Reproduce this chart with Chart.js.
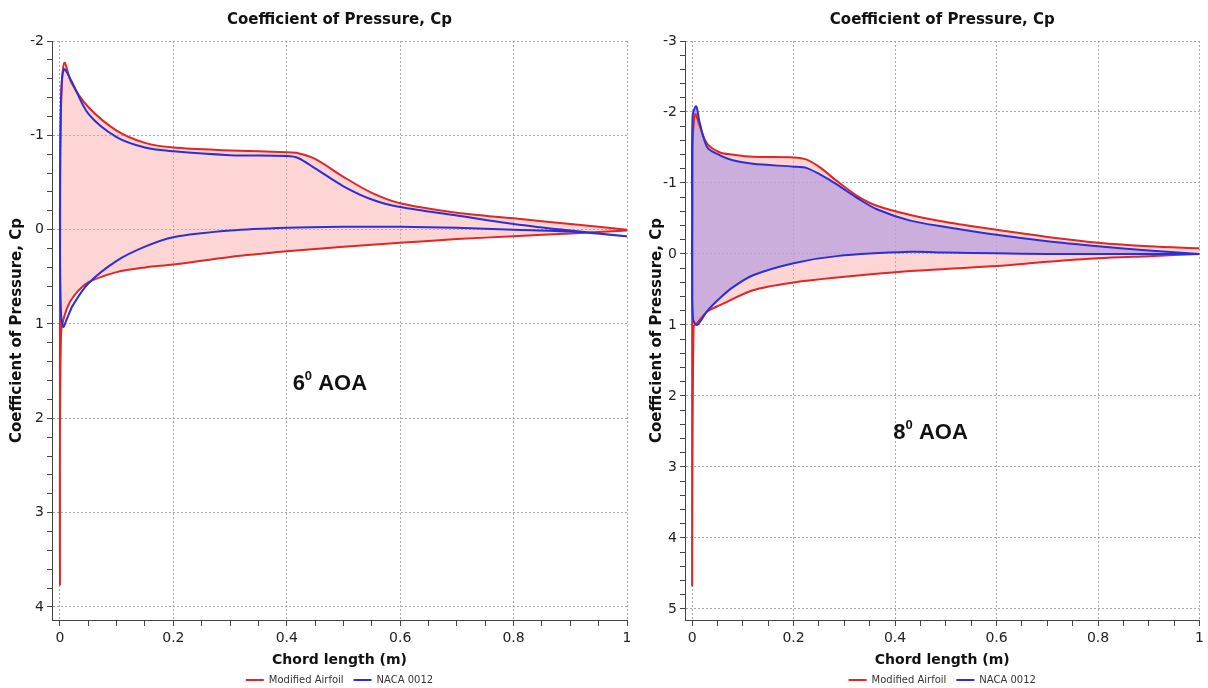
<!DOCTYPE html>
<html>
<head>
<meta charset="utf-8">
<script src="https://cdn.jsdelivr.net/npm/chart.js"></script>
<style>
  body { margin: 0; background: #fff; }
  .wrap { position: absolute; top: 0; }
</style>
</head>
<body>
<div class="wrap" style="left:0"><canvas id="cp6" width="640" height="688"></canvas></div>
<div class="wrap" style="left:640px"><canvas id="cp8" width="568" height="688"></canvas></div>
<script>
// ---- 6 deg AOA ----
var x6ModUpper  = [0.0005, 0.003, 0.008, 0.02, 0.05, 0.1, 0.15, 0.2, 0.3, 0.4, 0.42, 0.45, 0.5, 0.55, 0.6, 0.7, 0.8, 0.9, 1.0];
var cp6ModUpper = [-0.6, -1.5, -1.77, -1.56, -1.3, -1.05, -0.92, -0.87, -0.84, -0.82, -0.81, -0.75, -0.56, -0.39, -0.28, -0.18, -0.12, -0.06, 0.0];
var x6ModLower  = [0.0, 0.002, 0.012, 0.025, 0.05, 0.1, 0.15, 0.2, 0.3, 0.4, 0.5, 0.6, 0.7, 0.8, 0.9, 1.0];
var cp6ModLower = [3.75, 1.1, 0.84, 0.7, 0.56, 0.45, 0.4, 0.37, 0.29, 0.23, 0.18, 0.14, 0.1, 0.07, 0.04, 0.01];
var x6NacaUpper  = [0.0, 0.002, 0.007, 0.02, 0.05, 0.1, 0.15, 0.2, 0.3, 0.4, 0.42, 0.45, 0.5, 0.55, 0.6, 0.7, 0.8, 0.9, 1.0];
var cp6NacaUpper = [0.0, -1.4, -1.7, -1.58, -1.23, -0.98, -0.87, -0.83, -0.79, -0.78, -0.76, -0.65, -0.46, -0.32, -0.24, -0.15, -0.06, 0.01, 0.07];
var x6NacaLower  = [0.002, 0.006, 0.012, 0.023, 0.05, 0.1, 0.15, 0.2, 0.3, 0.4, 0.5, 0.6, 0.7, 0.8, 0.9, 1.0];
var cp6NacaLower = [0.9, 1.03, 0.95, 0.8, 0.57, 0.33, 0.18, 0.08, 0.01, -0.02, -0.03, -0.03, -0.02, 0.0, 0.02, 0.07];

// ---- 8 deg AOA ----
var x8ModUpper  = [0.001, 0.004, 0.007, 0.015, 0.03, 0.055, 0.08, 0.12, 0.2, 0.226, 0.252, 0.285, 0.325, 0.364, 0.43, 0.5, 0.6, 0.7, 0.8, 0.9, 1.0];
var cp8ModUpper = [-1.5, -1.92, -1.97, -1.8, -1.55, -1.43, -1.4, -1.37, -1.36, -1.33, -1.22, -1.03, -0.82, -0.68, -0.55, -0.45, -0.34, -0.24, -0.16, -0.11, -0.08];
var x8ModLower  = [0.0, 0.003, 0.01, 0.03, 0.055, 0.12, 0.2, 0.285, 0.43, 0.5, 0.6, 0.7, 0.8, 0.9, 1.0];
var cp8ModLower = [4.65, 1.02, 0.97, 0.81, 0.72, 0.51, 0.4, 0.33, 0.24, 0.21, 0.17, 0.11, 0.06, 0.03, 0.0];
var x8NacaUpper  = [0.0, 0.001, 0.008, 0.015, 0.03, 0.055, 0.08, 0.12, 0.2, 0.226, 0.252, 0.285, 0.325, 0.364, 0.43, 0.5, 0.6, 0.7, 0.8, 0.9, 1.0];
var cp8NacaUpper = [-0.5, -1.95, -2.08, -1.85, -1.5, -1.39, -1.32, -1.27, -1.23, -1.21, -1.12, -0.98, -0.79, -0.63, -0.47, -0.38, -0.27, -0.18, -0.11, -0.05, 0.0];
var x8NacaLower  = [0.0, 0.002, 0.01, 0.03, 0.055, 0.08, 0.12, 0.2, 0.285, 0.43, 0.5, 0.6, 0.7, 0.8, 0.9, 1.0];
var cp8NacaLower = [0.3, 0.92, 1.0, 0.8, 0.62, 0.47, 0.3, 0.13, 0.03, -0.03, -0.02, -0.01, 0.0, 0.0, 0.0, 0.0];

var seriesNames = ['Modified Airfoil', 'NACA 0012'];
var xTicks = [0, 0.2, 0.4, 0.6, 0.8, 1];
var yTicks6 = [-2, -1, 0, 1, 2, 3, 4];
var yTicks8 = [-3, -2, -1, 0, 1, 2, 3, 4, 5];

var FONT = "'DejaVu Sans', Verdana, sans-serif";

// upper surface runs TE -> LE, then lower surface LE -> TE, so the loop can be filled
function loop(xu, cu, xl, cl) {
  var pts = [];
  for (var i = xu.length - 1; i >= 0; i--) pts.push({x: xu[i], y: cu[i]});
  for (var j = 0; j < xl.length; j++) pts.push({x: xl[j], y: cl[j]});
  return pts;
}

function stepTicks(from, to, step) {
  var arr = [];
  var n = Math.round((to - from) / step);
  for (var i = 0; i <= n; i++) arr.push(Math.round((from + i * step) * 1000) / 1000);
  return arr;
}

function isMajor(v, majors) {
  return majors.some(function (m) { return Math.abs(m - v) < 1e-6; });
}

var aoaLabel = {
  id: 'aoaLabel',
  afterDatasetsDraw: function (chart, args, o) {
    var ctx = chart.ctx;
    var px = chart.scales.x.getPixelForValue(o.x);
    var py = chart.scales.y.getPixelForValue(o.y);
    var big = "bold 22px 'Liberation Sans', Arial, sans-serif";
    var small = "bold 13px 'Liberation Sans', Arial, sans-serif";
    ctx.save();
    ctx.fillStyle = '#111';
    ctx.textBaseline = 'alphabetic';
    ctx.font = big;
    var w1 = ctx.measureText(o.num).width;
    var w3 = ctx.measureText(' AOA').width;
    ctx.font = small;
    var w2 = ctx.measureText('0').width;
    var left = px - (w1 + w2 + w3) / 2;
    ctx.font = big;
    ctx.fillText(o.num, left, py + 8);
    ctx.font = small;
    ctx.fillText('0', left + w1, py - 2);
    ctx.font = big;
    ctx.fillText(' AOA', left + w1 + w2, py + 8);
    ctx.restore();
  }
};

function makeChart(id, modPts, nacaPts, yMin, yMax, yMajors, nacaFill, label) {
  var xAll = stepTicks(0, 1, 0.05);
  var yAll = stepTicks(yMin, yMajors[yMajors.length - 1], 0.2);
  return new Chart(document.getElementById(id), {
    type: 'line',
    data: {
      datasets: [{
        label: seriesNames[0],
        data: modPts,
        borderColor: '#e02626',
        backgroundColor: 'rgba(250,150,150,0.4)',
        borderWidth: 2,
        pointRadius: 0,
        tension: 0.3,
        fill: 'shape',
        order: 2
      }, {
        label: seriesNames[1],
        data: nacaPts,
        borderColor: '#2e2ed6',
        backgroundColor: nacaFill || 'rgba(0,0,0,0)',
        borderWidth: 2,
        pointRadius: 0,
        tension: 0.3,
        fill: nacaFill ? 'shape' : false,
        order: 1
      }]
    },
    options: {
      responsive: false,
      animation: false,
      events: [],
      layout: { padding: { right: id === 'cp6' ? 13 : 8, bottom: -7 } },
      plugins: {
        filler: { drawTime: 'beforeDatasetsDraw' },
        tooltip: { enabled: false },
        title: {
          display: true,
          fullSize: false,
          text: 'Coefficient of Pressure, Cp',
          color: '#111',
          font: { family: FONT, size: 15, weight: 'bold' },
          padding: { top: 11, bottom: 12 }
        },
        legend: {
          position: 'bottom',
          fullSize: false,
          labels: {
            color: '#333',
            font: { family: FONT, size: 10 },
            boxWidth: 18,
            boxHeight: 2,
            padding: 10,
            generateLabels: function (chart) {
              var items = Chart.defaults.plugins.legend.labels.generateLabels(chart);
              items.forEach(function (it) { it.fillStyle = it.strokeStyle; it.lineWidth = 0; });
              return items.sort(function (a, b) { return a.datasetIndex - b.datasetIndex; });
            }
          }
        },
        aoaLabel: label
      },
      scales: {
        x: {
          type: 'linear',
          min: -0.014,
          max: 1,
          afterBuildTicks: function (s) { s.ticks = xAll.map(function (v) { return {value: v}; }); },
          afterFit: function (s) { s.height = 45; },
          ticks: {
            color: '#222',
            font: { family: FONT, size: 14 },
            padding: 4,
            maxRotation: 0,
            autoSkip: false,
            callback: function (v) { return isMajor(v, xTicks) ? String(v) : ''; }
          },
          grid: {
            color: function (c) { return c.tick && isMajor(c.tick.value, xTicks) ? '#a8a8a8' : 'rgba(0,0,0,0)'; },
            tickColor: '#444',
            tickLength: 6,
            lineWidth: 1
          },
          border: { display: true, color: '#444', dash: [2, 2] },
          title: {
            display: true,
            text: 'Chord length (m)',
            color: '#111',
            font: { family: FONT, size: 14, weight: 'bold' },
            padding: { top: 2, bottom: -4 }
          }
        },
        y: {
          reverse: true,
          min: yMin,
          max: yMax,
          afterBuildTicks: function (s) { s.ticks = yAll.map(function (v) { return {value: v}; }); },
          afterFit: function (s) { s.width = id === 'cp6' ? 52 : 45; },
          ticks: {
            color: '#222',
            font: { family: FONT, size: 14 },
            padding: 3,
            autoSkip: false,
            callback: function (v) { return isMajor(v, yMajors) ? String(v) : ''; }
          },
          grid: {
            color: function (c) { return c.tick && isMajor(c.tick.value, yMajors) ? '#a8a8a8' : 'rgba(0,0,0,0)'; },
            tickColor: '#444',
            tickLength: 5,
            lineWidth: 1
          },
          border: { display: true, color: '#444', dash: [2, 2] },
          title: {
            display: true,
            text: 'Coefficient of Pressure, Cp',
            color: '#111',
            font: { family: FONT, size: 15, weight: 'bold' },
            padding: { top: 8, bottom: 2 }
          }
        }
      }
    },
    plugins: [aoaLabel]
  });
}

makeChart('cp6',
  loop(x6ModUpper, cp6ModUpper, x6ModLower, cp6ModLower),
  loop(x6NacaUpper, cp6NacaUpper, x6NacaLower, cp6NacaLower),
  -2, 4.138, yTicks6, null, { x: 0.476, y: 1.61, num: '6' });

makeChart('cp8',
  loop(x8ModUpper, cp8ModUpper, x8ModLower, cp8ModLower),
  loop(x8NacaUpper, cp8NacaUpper, x8NacaLower, cp8NacaLower),
  -3, 5.155, yTicks8, 'rgba(185,160,220,0.75)', { x: 0.47, y: 2.49, num: '8' });
</script>
</body>
</html>
